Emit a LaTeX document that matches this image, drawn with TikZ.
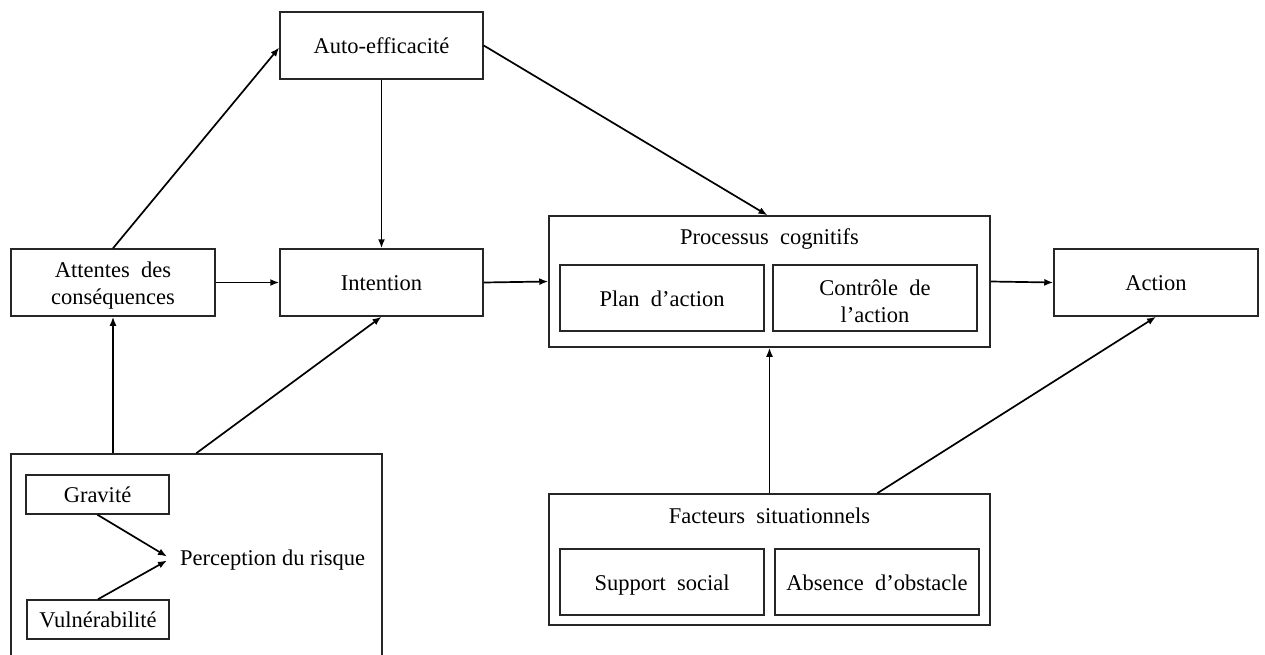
\documentclass[tikz,border=0pt]{standalone}
\usepackage{fontspec}
\setmainfont{Liberation Serif}
\usetikzlibrary{arrows.meta,calc}
\begin{document}
\begin{tikzpicture}[x=1pt,y=-1pt,
  box/.style={draw=black!85,line width=1.5pt,inner sep=0pt,align=center,
    font=\fontsize{22.5}{27}\selectfont},
  oneline/.style={text height=19pt,text depth=3pt},
  txt/.style={inner sep=0pt,font=\fontsize{22.5}{27}\selectfont},
  arr/.style={line width=1.7pt,-{Latex[length=9pt,width=7pt]}}]
\useasboundingbox (0,0) rectangle (1265,654);
% main boxes
\node[box,oneline,minimum width=203pt,minimum height=67pt] (auto) at (381.5,45.5) {Auto-efficacit\'e};
\node[box,minimum width=204pt,minimum height=67pt] (att) at (113,282.5) {};
\node[txt,align=center] (attt) at (113,285.5) {Attentes\ \ des\\cons\'equences};
\node[box,oneline,minimum width=203pt,minimum height=67pt] (int) at (381.5,282.5) {Intention};
\node[box,oneline,minimum width=204pt,minimum height=67pt] (action) at (1156,282.5) {Action};
% processus cognitifs
\node[box,minimum width=441pt,minimum height=131pt] (proc) at (769.5,281.5) {};
\node[txt,anchor=base] (proct) at (769.5,244) {Processus\ \ cognitifs};
\node[box,oneline,minimum width=204pt,minimum height=66pt] (plan) at (662,298) {Plan\ \ d'action};
\node[box,minimum width=204pt,minimum height=66pt] (ctrl) at (875,298) {};
\node[txt,align=center] (ctrlt) at (875,301.5) {Contr\^ole\ \ de\\l'action};
% facteurs situationnels
\node[box,minimum width=441pt,minimum height=131pt] (fact) at (769.5,559.5) {};
\node[txt,anchor=base] (factt) at (769.5,523) {Facteurs\ \ situationnels};
\node[box,oneline,minimum width=204pt,minimum height=66pt] (supp) at (662,582) {Support\ \ social};
\node[box,oneline,minimum width=204pt,minimum height=66pt] (abs) at (877,582) {Absence\ \ d'obstacle};
% perception du risque
\node[box,minimum width=371pt,minimum height=246pt] (risk) at (196.5,577) {};
\node[box,oneline,minimum width=143pt,minimum height=39pt] (grav) at (97.5,494.5) {Gravit\'e};
\node[box,oneline,minimum width=142pt,minimum height=39pt] (vuln) at (98,619.5) {Vuln\'erabilit\'e};
\node[txt,anchor=base west] (perc) at (180,565) {Perception du risque};
% arrows
\draw[arr] (grav.south) -- ($(perc.base west)+(-13,-8.5)$);
\draw[arr] (vuln.north) -- ($(perc.base west)+(-13,-4.5)$);
\draw[arr] (att.north) -- ($(auto.west)+(0,2)$);
\draw[arr] (auto.south) -- (int.north);
\draw[arr] (auto.east) -- ($(proc.north)+(-2,0)$);
\draw[arr] (att.east) -- (int.west);
\draw[arr] (int.east) -- (proc.west);
\draw[arr] (proc.east) -- (action.west);
\draw[arr] (att.south |- risk.north) -- (att.south);
\draw[arr] ($(risk.north west)+(186,0)$) -- (int.south);
\draw[arr] (fact.north) -- (proc.south);
\draw[arr] ($(fact.north west)+(329,0)$) -- (action.south);
\end{tikzpicture}
\end{document}
